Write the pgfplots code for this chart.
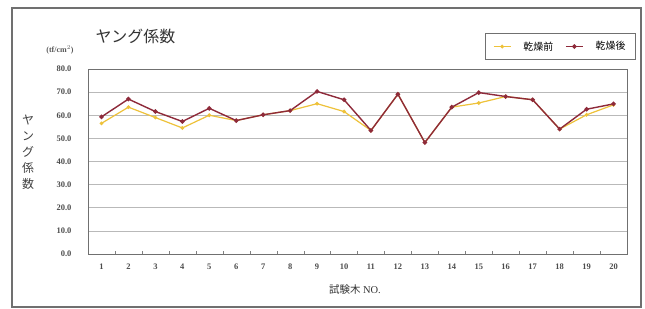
\documentclass[border=0pt]{standalone}
\usepackage{pgfplots}
\pgfplotsset{compat=1.18}
\usepackage{fontspec}
\setmainfont{Liberation Serif}
\newfontfamily\jp{Noto Sans CJK JP}
\definecolor{dryafter}{HTML}{8E2A3A}
\definecolor{drybefore}{HTML}{EEC23A}
\definecolor{framegray}{HTML}{707070}
\begin{document}
\begin{tikzpicture}
\path[fill=white] (0,0) rectangle (645bp,309bp);
\draw[framegray, line width=1.2bp] (12bp,2bp) rectangle (641bp,301bp);
\begin{axis}[
  at={(88bp,55bp)}, anchor=south west,
  scale only axis, width=539bp, height=185bp,
  xmin=0.5, xmax=20.5, ymin=0, ymax=80,
  xtick={1,...,20}, ytick={0,10,...,80},
  minor xtick={1.5,2.5,...,19.5},
  xtick pos=bottom, ytick pos=left,
  major x tick style={draw=none},
  minor tick length=3bp,
  minor x tick style={gray},
  tick align=inside,
  ymajorgrids, grid style={gray!55, line width=0.6bp},
  major y tick style={draw=none},
  axis line style={framegray, line width=0.8bp},
  /pgf/number format/assume math mode=true,
  y tick label style={/pgf/number format/fixed, /pgf/number format/fixed zerofill, /pgf/number format/precision=1},
  tick label style={font=\fontsize{8.5}{10}\selectfont\bfseries, text=black!70},
  yticklabel style={xshift=-13bp},
  xticklabel style={yshift=-6bp},
  legend style={at={(1,1)}, anchor=south east, xshift=9bp, yshift=9bp,
    draw=framegray, line width=1bp, font=\jp\fontsize{10}{12}\selectfont,
    inner xsep=8bp, inner ysep=6bp, column sep=10bp},
  legend columns=2,
  legend cell align=left,
  clip=false,
]
\addplot[color=drybefore, line width=1.2bp, mark=*, mark size=1.2bp] coordinates {
(1,56.5) (2,63.5) (3,59) (4,54.5) (5,60) (6,57.7) (7,60.2) (8,62) (9,65) (10,61.6)
(11,53.4) (12,69.1) (13,48.2) (14,63.5) (15,65.3) (16,68.1) (17,66.7) (18,54) (19,60.2) (20,64.5)};
\addlegendentry{乾燥前}
\addplot[color=dryafter, line width=1.4bp, mark=*, mark size=1.5bp] coordinates {
(1,59.3) (2,67) (3,61.6) (4,57.3) (5,63) (6,57.7) (7,60.2) (8,62) (9,70.3) (10,66.7)
(11,53.4) (12,69.1) (13,48.2) (14,63.5) (15,69.8) (16,68.1) (17,66.7) (18,54) (19,62.6) (20,64.9)};
\addlegendentry{乾燥後}
\end{axis}
\node[font=\jp\fontsize{16}{18}\selectfont, text=black!80, anchor=west] at (92bp,273bp) {ヤング係数};
\node[font=\fontsize{8}{9}\selectfont\bfseries, text=black!65] at (60bp,259bp) {(tf/cm$^2$)};
\node[font=\jp\fontsize{12}{16}\selectfont, text=black!75, align=center] at (28bp,157bp) {ヤ\\ン\\グ\\係\\数};
\node[font=\fontsize{10.5}{12}\selectfont, text=black!80] at (355bp,19bp) {{\jp 試験木} NO.};
\end{tikzpicture}
\end{document}
